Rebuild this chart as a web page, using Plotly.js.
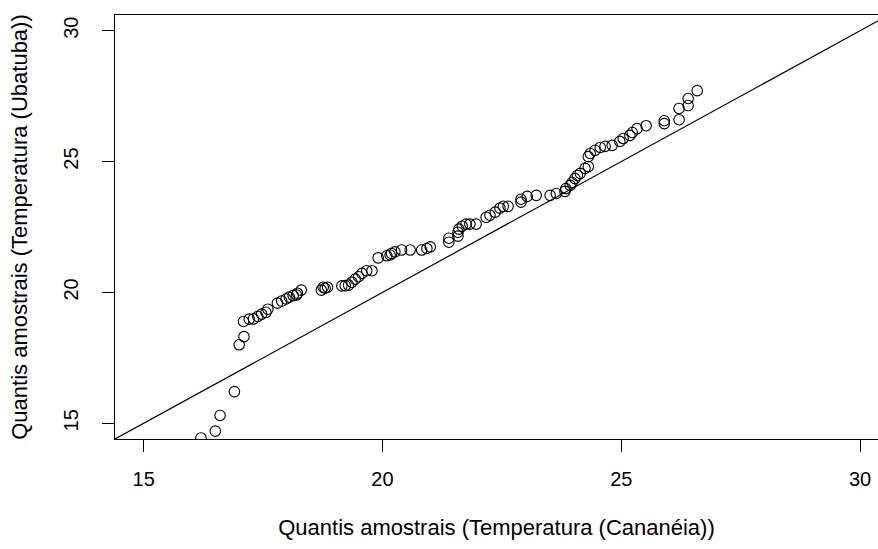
<!DOCTYPE html>
<html>
<head>
<meta charset="utf-8">
<script src="https://cdn.plot.ly/plotly-3.0.1.min.js"></script>
<style>html,body{margin:0;padding:0;background:#fff;}#chart{width:878px;height:549px;}</style>
</head>
<body>
<div id="chart"></div>
<script>
// Sample quantiles (sorted)
const cananeia = [
  16.20, 16.50, 16.60, 16.90, 17.00, 17.10, 17.09, 17.21, 17.30, 17.39,
  17.47, 17.56, 17.60, 17.80, 17.89, 17.98, 18.05, 18.13, 18.20, 18.22,
  18.30, 18.72, 18.80, 18.76, 18.85, 19.15, 19.22, 19.29, 19.36, 19.43,
  19.50, 19.57, 19.67, 19.78, 19.91, 20.09, 20.16, 20.19, 20.26, 20.40,
  20.58, 20.82, 20.93, 21.00, 21.39, 21.39, 21.58, 21.58, 21.60, 21.67,
  21.75, 21.83, 21.96, 22.17, 22.25, 22.36, 22.46, 22.53, 22.63, 22.90,
  22.90, 23.03, 23.22, 23.51, 23.64, 23.82, 23.84, 23.93, 23.97, 24.03,
  24.08, 24.14, 24.24, 24.31, 24.31, 24.35, 24.45, 24.56, 24.66, 24.81,
  24.97, 25.04, 25.18, 25.23, 25.33, 25.52, 25.90, 25.90, 26.21, 26.21,
  26.40, 26.40, 26.59
];
const ubatuba = [
  14.44, 14.70, 15.30, 16.21, 18.00, 18.31, 18.89, 18.98, 18.99, 19.08,
  19.17, 19.24, 19.36, 19.59, 19.67, 19.75, 19.82, 19.88, 19.90, 19.97,
  20.09, 20.09, 20.16, 20.20, 20.20, 20.25, 20.26, 20.28, 20.39, 20.51,
  20.60, 20.73, 20.83, 20.83, 21.32, 21.40, 21.43, 21.49, 21.55, 21.62,
  21.62, 21.62, 21.68, 21.74, 21.92, 22.07, 22.15, 22.30, 22.42, 22.53,
  22.61, 22.61, 22.61, 22.87, 22.95, 23.07, 23.22, 23.29, 23.29, 23.45,
  23.56, 23.67, 23.71, 23.71, 23.78, 23.86, 23.97, 24.09, 24.20, 24.35,
  24.47, 24.55, 24.74, 24.81, 25.19, 25.31, 25.43, 25.54, 25.58, 25.62,
  25.77, 25.88, 26.00, 26.11, 26.26, 26.37, 26.45, 26.56, 26.60, 27.03,
  27.14, 27.41, 27.71
];
// Reference line y = intercept + slope * x
const lineIntercept = 0;
const lineSlope = 1;
const axisLimits = [15, 30];
const tickVals = [15, 20, 25, 30];
const xTitle = "Quantis amostrais (Temperatura (Cananéia))";
const yTitle = "Quantis amostrais (Temperatura (Ubatuba))";

const pad = (axisLimits[1] - axisLimits[0]) * 0.04;
const xr = [axisLimits[0] - pad, 30.375];
const yr = [axisLimits[0] - pad, axisLimits[1] + pad];
const lx = [xr[0] - 1, yr[1] + 1];

const fam = "Liberation Sans, Arial, sans-serif";
const tickFont = {family: fam, size: 20, color: "#000"};
const xTitleFont = {family: fam, size: 22, color: "#000"};
const yTitleFont = {family: fam, size: 22, color: "#000"};

Plotly.newPlot("chart", [
  {
    x: cananeia, y: ubatuba, type: "scatter", mode: "markers",
    marker: {symbol: "circle-open", size: 10.5, color: "#000", line: {width: 1.1, color: "#000"}},
    cliponaxis: true, hoverinfo: "skip"
  },
  {
    x: lx, y: lx.map(v => lineIntercept + lineSlope * v),
    type: "scatter", mode: "lines", line: {color: "#000", width: 1.2},
    hoverinfo: "skip"
  }
], {
  width: 878, height: 549,
  margin: {l: 115, r: 0, t: 15, b: 110, pad: 0},
  paper_bgcolor: "#fff", plot_bgcolor: "#fff",
  showlegend: false,
  font: tickFont,
  xaxis: {
    range: xr, tickvals: tickVals, ticktext: tickVals.map(String),
    showgrid: false, zeroline: false,
    showline: true, mirror: true, linecolor: "#000", linewidth: 1,
    ticks: "outside", ticklen: 12, tickwidth: 1, tickcolor: "#000",
    ticklabelstandoff: 10, tickfont: tickFont,
    title: {text: xTitle, font: xTitleFont, standoff: 30}
  },
  yaxis: {
    range: yr, tickvals: tickVals, ticktext: tickVals.map(String),
    showgrid: false, zeroline: false,
    showline: true, mirror: false, linecolor: "#000", linewidth: 1,
    ticks: "outside", ticklen: 12, tickwidth: 1, tickcolor: "#000",
    tickangle: -90, ticklabelstandoff: 16, tickfont: tickFont,
    title: {text: yTitle, font: yTitleFont, standoff: 26}
  }
}, {staticPlot: true, displayModeBar: false});
</script>
</body>
</html>
